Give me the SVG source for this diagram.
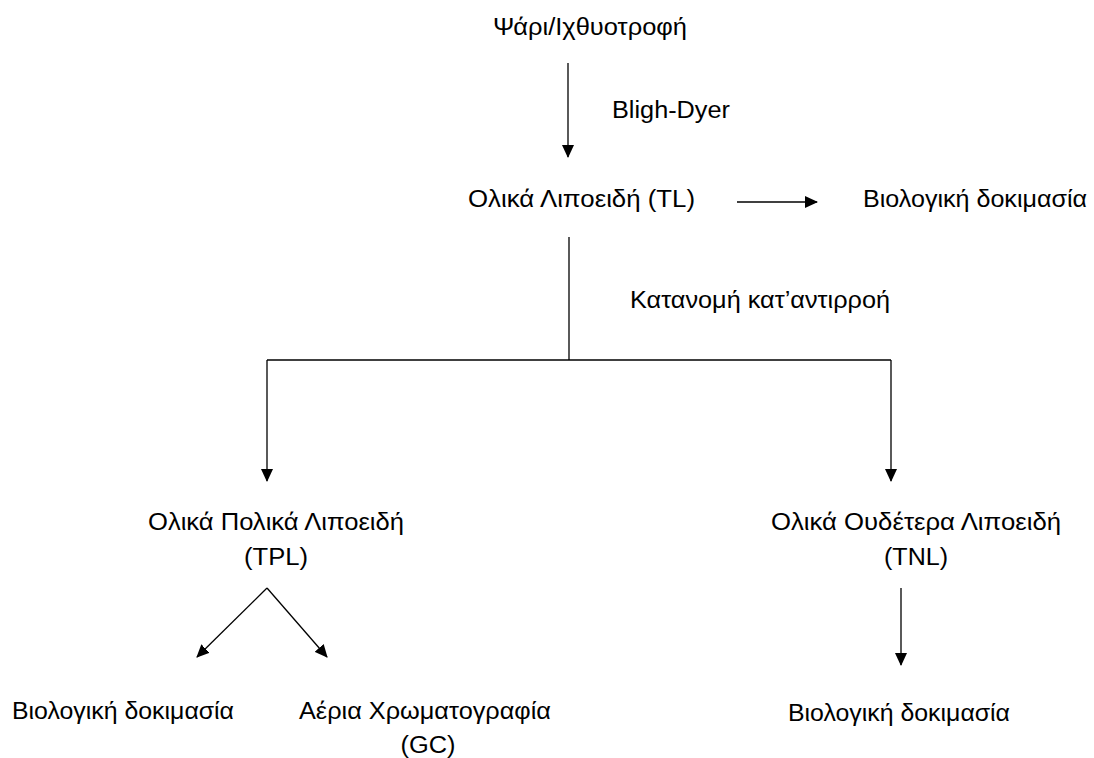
<svg xmlns="http://www.w3.org/2000/svg" width="1094" height="758" viewBox="0 0 1094 758">
<style>
text{font-family:"Liberation Sans",Arial,"DejaVu Sans",sans-serif;font-size:23px;fill:#000}
.c{stroke:#000;stroke-width:1.3;fill:none}
</style>
<defs>
<marker id="ah" markerWidth="13" markerHeight="12" refX="12" refY="6" orient="auto" markerUnits="userSpaceOnUse">
<path d="M0,0 L13,6 L0,12 Z" fill="#000"/>
</marker>
</defs>
<rect width="1094" height="758" fill="#fff"/>
<g id="connectors">
<line class="c" x1="568" y1="63" x2="568" y2="157" marker-end="url(#ah)"/>
<line class="c" x1="737" y1="202" x2="817" y2="202" marker-end="url(#ah)"/>
<polyline class="c" points="569,237 569,360"/>
<polyline class="c" points="891,360 267,360"/>
<line class="c" x1="267" y1="360" x2="267" y2="481" marker-end="url(#ah)"/>
<line class="c" x1="891" y1="360" x2="891" y2="481" marker-end="url(#ah)"/>
<line class="c" x1="267" y1="588" x2="197" y2="657" marker-end="url(#ah)"/>
<line class="c" x1="267" y1="588" x2="327" y2="657" marker-end="url(#ah)"/>
<line class="c" x1="901" y1="588" x2="901" y2="665" marker-end="url(#ah)"/>
</g>
<g id="fish"><text x="493" y="35" textLength="194" lengthAdjust="spacingAndGlyphs">Ψάρι/Ιχθυοτροφή</text></g>
<g id="label-bligh"><text x="612" y="118" textLength="118" lengthAdjust="spacingAndGlyphs">Bligh-Dyer</text></g>
<g id="tl"><text x="468" y="207" textLength="227" lengthAdjust="spacingAndGlyphs">Ολικά Λιποειδή (TL)</text></g>
<g id="bio-top"><text x="863" y="207" textLength="224" lengthAdjust="spacingAndGlyphs">Βιολογική δοκιμασία</text></g>
<g id="label-ccd"><text x="630" y="308" textLength="260" lengthAdjust="spacingAndGlyphs">Κατανομή κατ’αντιρροή</text></g>
<g id="tpl"><text x="276" y="530" text-anchor="middle" textLength="256" lengthAdjust="spacingAndGlyphs">Ολικά Πολικά Λιποειδή</text><text x="276" y="565" text-anchor="middle" textLength="64" lengthAdjust="spacingAndGlyphs">(TPL)</text></g>
<g id="tnl"><text x="916" y="530" text-anchor="middle" textLength="290" lengthAdjust="spacingAndGlyphs">Ολικά Ουδέτερα Λιποειδή</text><text x="916" y="565" text-anchor="middle" textLength="64" lengthAdjust="spacingAndGlyphs">(TNL)</text></g>
<g id="bio-left"><text x="12" y="719" textLength="222" lengthAdjust="spacingAndGlyphs">Βιολογική δοκιμασία</text></g>
<g id="gc"><text x="425" y="719" text-anchor="middle" textLength="252" lengthAdjust="spacingAndGlyphs">Αέρια Χρωματογραφία</text><text x="428" y="753" text-anchor="middle" textLength="55" lengthAdjust="spacingAndGlyphs">(GC)</text></g>
<g id="bio-right"><text x="788" y="721" textLength="222" lengthAdjust="spacingAndGlyphs">Βιολογική δοκιμασία</text></g>
</svg>
